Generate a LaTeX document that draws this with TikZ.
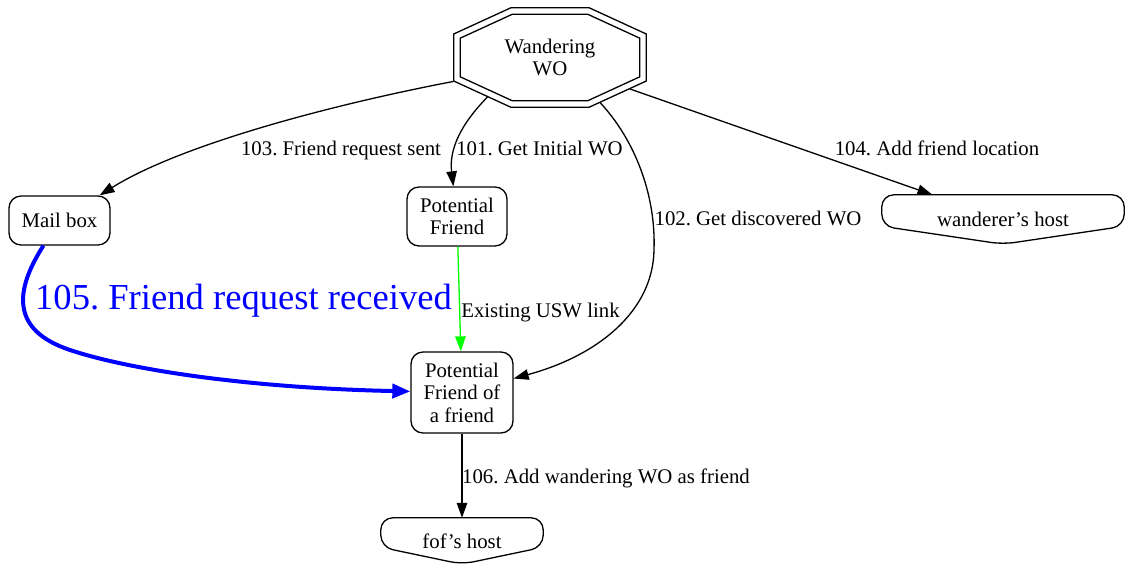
\documentclass[tikz,border=0pt]{standalone}
\usepackage{fontspec}
\setmainfont{Liberation Serif}
\usetikzlibrary{arrows.meta,calc}
\begin{document}
\begin{tikzpicture}[x=1pt,y=-1pt,
  every node/.style={font=\fontsize{20.8pt}{22.5pt}\selectfont\frenchspacing, inner sep=0pt},
  rbox/.style={draw, rectangle, rounded corners=12pt, line width=1.3pt, align=center},
  octline/.style={line width=1.3pt, line join=miter},
  hostline/.style={line width=1.3pt, rounded corners=12pt},
  edge/.style={line width=1.3pt, -{Triangle[length=15pt,width=10.5pt]}},
  lbl/.style={anchor=base},
  big/.style={font=\fontsize{36.6pt}{40pt}\selectfont\frenchspacing, text=blue},
]
\useasboundingbox (0,0) rectangle (1125,563);

% nodes
\node[minimum width=194pt, minimum height=101pt, align=center] (WO) at (550,57.5) {Wandering\\WO};
\draw[octline] ($(WO.center)+(-39,-49.8)$) -- ($(WO.center)+(39,-49.8)$) -- ($(WO.center)+(96.3,-23.5)$)
  -- ($(WO.center)+(96.3,23.5)$) -- ($(WO.center)+(39,49.8)$) -- ($(WO.center)+(-39,49.8)$)
  -- ($(WO.center)+(-96.3,23.5)$) -- ($(WO.center)+(-96.3,-23.5)$) -- cycle;
\draw[octline] ($(WO.center)+(-37.6,-43.3)$) -- ($(WO.center)+(37.6,-43.3)$) -- ($(WO.center)+(89.8,-19.3)$)
  -- ($(WO.center)+(89.8,19.3)$) -- ($(WO.center)+(37.6,43.3)$) -- ($(WO.center)+(-37.6,43.3)$)
  -- ($(WO.center)+(-89.8,19.3)$) -- ($(WO.center)+(-89.8,-19.3)$) -- cycle;
% points on the octagon border where the connectors leave it
\coordinate (wo103) at (453.2,81.5);
\coordinate (wo101) at (487.5,97);
\coordinate (wo102) at (600,102.5);
\coordinate (wo104) at (630,89);

\node[rbox, minimum width=101pt, minimum height=49pt] (mail) at (59.5,220.5) {Mail box};
\node[rbox, minimum width=100pt, minimum height=59pt] (pf) at (457,216.5) {Potential\\Friend};
\node[rbox, minimum width=102pt, minimum height=81pt] (pfof) at (462,392.5) {Potential\\Friend of\\a friend};
\node[minimum width=242pt, minimum height=49pt] (whost) at (1003,219.5) {wanderer’s host};
\node[minimum width=162pt, minimum height=46pt] (fof) at (462,541) {fof’s host};

\draw[hostline] (whost.south) -- ($(whost.south west)+(0,-18)$) -- (whost.north west)
  -- (whost.north east) -- ($(whost.south east)+(0,-18)$) -- cycle;
\draw[hostline] (fof.south) -- ($(fof.south west)+(0,-17)$) -- (fof.north west)
  -- (fof.north east) -- ($(fof.south east)+(0,-17)$) -- cycle;

% edges
\draw[edge] (wo103) .. controls (330,105) and (180,145) .. (mail);
\draw[edge] (wo101) .. controls (460,125) and (449,150) .. (pf);
\draw[edge] (wo102) .. controls (635,140) and (656,195) .. (654,250)
  .. controls (653,310) and (600,355) .. (pfof);
\draw[edge] (wo104) -- (whost);
\draw[edge, draw=green, -{Triangle[length=15pt,width=10.5pt,fill=green]}] (pf) -- (pfof);
\draw[edge, draw=blue, line width=4pt, -{Triangle[length=18pt,width=14pt,fill=blue]}]
  (mail) .. controls (15,290) and (10,330) .. (70,350)
  .. controls (130,370) and (250,388) .. (pfof);
\draw[edge] (pfof) -- (fof);

% labels
\node[lbl] (l103) at (341,155) {103. Friend request sent};
\node[lbl] (l101) at (539.5,155) {101. Get Initial WO};
\node[lbl] (l104) at (937,155) {104. Add friend location};
\node[lbl] (l102) at (758,225) {102. Get discovered WO};
\node[lbl] (lusw) at (540.5,317) {Existing USW link};
\node[lbl, big] (l105) at (243.5,309) {105. Friend request received};
\node[lbl] (l106) at (606,483) {106. Add wandering WO as friend};
\end{tikzpicture}
\end{document}
